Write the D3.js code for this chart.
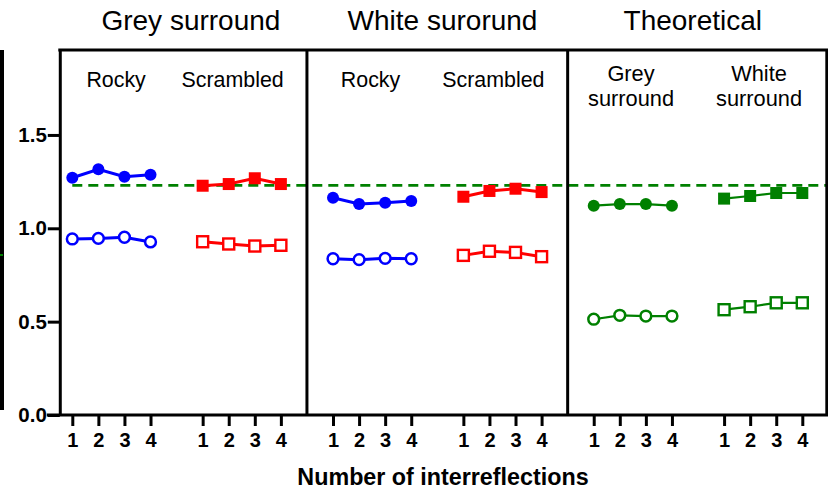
<!DOCTYPE html>
<html><head><meta charset="utf-8">
<script src="https://cdn.jsdelivr.net/npm/d3@7"></script>
<style>
body{margin:0;background:#fff;}
svg{display:block;font-family:"Liberation Sans",Arial,sans-serif;}
</style></head>
<body>
<svg id="chart" width="828" height="491"></svg>
<script>
// ---- data ----
const panelTitles = ["Grey surround", "White surorund", "Theoretical"];
const groupLabels = [["Rocky"], ["Scrambled"], ["Rocky"], ["Scrambled"], ["Grey", "surround"], ["White", "surround"]];
const interreflections = ["1", "2", "3", "4"];
const yTicks = [0, 0.5, 1.0, 1.5];
const referenceLevel = 1.23;

const greyRockyFilled      = [1.271, 1.316, 1.276, 1.287];
const greyRockyOpen        = [0.943, 0.946, 0.952, 0.927];
const greyScrambledFilled  = [1.228, 1.237, 1.268, 1.237];
const greyScrambledOpen    = [0.928, 0.916, 0.905, 0.909];
const whiteRockyFilled     = [1.164, 1.130, 1.137, 1.146];
const whiteRockyOpen       = [0.837, 0.832, 0.839, 0.837];
const whiteScrambledFilled = [1.169, 1.200, 1.212, 1.194];
const whiteScrambledOpen   = [0.855, 0.877, 0.871, 0.848];
const theoGreyFilled       = [1.121, 1.130, 1.130, 1.121];
const theoGreyOpen         = [0.513, 0.534, 0.530, 0.530];
const theoWhiteFilled      = [1.159, 1.173, 1.189, 1.189];
const theoWhiteOpen        = [0.564, 0.580, 0.601, 0.601];

const BLUE = "#0000ff", RED = "#ff0000", GREEN = "#008000";

// group index -> first slot position (4 points per group, gap of 1 slot between groups)
const groupStart = [0, 5, 10, 15, 20, 25];
// label centre offsets (in slot units) relative to group centre
const labelShift = [0.18, -0.35, -0.06, -0.35, -0.07, -0.16];
const titleSlot = [4.55, 14.2, 23.8];

const series = [
  {g:0, v:greyRockyFilled, c:BLUE, shape:"circle", fill:true, lw:3},
  {g:0, v:greyRockyOpen, c:BLUE, shape:"circle", fill:false, lw:3},
  {g:1, v:greyScrambledFilled, c:RED, shape:"square", fill:true, lw:3},
  {g:1, v:greyScrambledOpen, c:RED, shape:"square", fill:false, lw:3},
  {g:2, v:whiteRockyFilled, c:BLUE, shape:"circle", fill:true, lw:3},
  {g:2, v:whiteRockyOpen, c:BLUE, shape:"circle", fill:false, lw:3},
  {g:3, v:whiteScrambledFilled, c:RED, shape:"square", fill:true, lw:3},
  {g:3, v:whiteScrambledOpen, c:RED, shape:"square", fill:false, lw:3},
  {g:4, v:theoGreyFilled, c:GREEN, shape:"circle", fill:true, lw:2.2},
  {g:4, v:theoGreyOpen, c:GREEN, shape:"circle", fill:false, lw:2.2},
  {g:5, v:theoWhiteFilled, c:GREEN, shape:"square", fill:true, lw:2.2},
  {g:5, v:theoWhiteOpen, c:GREEN, shape:"square", fill:false, lw:2.2}
];

// ---- scales ----
const x = d3.scaleLinear().domain([0, 28]).range([72.3, 802.3]);
const y = d3.scaleLinear().domain([0, 1.955]).range([415, 50]);

const svg = d3.select("#chart");

// cropped neighbouring figure edge at far left
svg.append("rect").attr("x", 0).attr("y", 50).attr("width", 4).attr("height", 360).attr("fill", "#000");
svg.append("rect").attr("x", 0).attr("y", 254).attr("width", 3).attr("height", 2).attr("fill", GREEN);

const xLeft = x(-0.48), xRight = x(28.94);

// reference dashed line
svg.append("line")
  .attr("x1", x(0)).attr("x2", xRight)
  .attr("y1", y(referenceLevel)).attr("y2", y(referenceLevel))
  .attr("stroke", GREEN).attr("stroke-width", 2.6).attr("stroke-dasharray", "10,6");

// frame: top and panel dividers
svg.append("line").attr("x1", xLeft - 1.5).attr("x2", xRight + 1.5)
  .attr("y1", y.range()[1]).attr("y2", y.range()[1])
  .attr("stroke", "#000").attr("stroke-width", 3);
[9, 19, 28.94].forEach(p => {
  svg.append("line").attr("x1", x(p)).attr("x2", x(p))
    .attr("y1", y.range()[1]).attr("y2", y(0))
    .attr("stroke", "#000").attr("stroke-width", 3);
});

// y axis
const yAxis = svg.append("g").attr("transform", `translate(${xLeft},0)`)
  .call(d3.axisLeft(y).tickValues(yTicks).tickFormat(d3.format(".1f")).tickSize(12).tickSizeOuter(0).tickPadding(1));
yAxis.select(".domain").attr("stroke-width", 3).attr("stroke", "#000");
yAxis.selectAll(".tick line").attr("stroke-width", 3).attr("stroke", "#000");
yAxis.selectAll(".tick text").attr("font-size", 20.5).attr("font-weight", "bold")
  .attr("font-family", "'Liberation Sans',Arial,sans-serif").attr("fill", "#000");

// x axis
const xTickPos = [], xTickLab = [];
groupStart.forEach(s => interreflections.forEach((l, i) => { xTickPos.push(s + i); xTickLab.push(l); }));
const xAxis = svg.append("g").attr("transform", `translate(0,${y(0)})`)
  .call(d3.axisBottom(x).tickValues(xTickPos).tickFormat((d, i) => xTickLab[i]).tickSize(11).tickSizeOuter(0).tickPadding(7));
xAxis.select(".domain").attr("d", `M${xLeft - 13},0H${xRight + 1.5}`).attr("stroke-width", 3).attr("stroke", "#000");
xAxis.selectAll(".tick line").attr("stroke-width", 3).attr("stroke", "#000");
xAxis.selectAll(".tick text").attr("font-size", 20).attr("font-weight", "bold")
  .attr("font-family", "'Liberation Sans',Arial,sans-serif").attr("fill", "#000");

// x axis title
svg.append("text").attr("x", 443).attr("y", 485).attr("text-anchor", "middle")
  .attr("font-size", 23.3).attr("font-weight", "bold").text("Number of interreflections");

// panel titles
panelTitles.forEach((t, i) => {
  svg.append("text").attr("x", x(titleSlot[i])).attr("y", 30).attr("text-anchor", "middle")
    .attr("font-size", 28).text(t);
});

// group labels
groupLabels.forEach((lines, gi) => {
  const cx = x(groupStart[gi] + 1.5 + labelShift[gi]);
  const t = svg.append("text").attr("text-anchor", "middle").attr("font-size", lines.length === 1 ? 21.4 : 21.8);
  if (lines.length === 1) {
    t.append("tspan").attr("x", cx).attr("y", 87).text(lines[0]);
  } else {
    lines.forEach((l, k) => t.append("tspan").attr("x", cx).attr("y", 81 + k * 25).text(l));
  }
});

// series
const line = d3.line().x(d => x(d.p)).y(d => y(d.v));
series.forEach(s => {
  const pts = s.v.map((v, i) => ({p: groupStart[s.g] + i, v}));
  const g = svg.append("g");
  g.append("path").attr("d", line(pts)).attr("fill", "none").attr("stroke", s.c).attr("stroke-width", s.lw);
  if (s.shape === "circle") {
    g.selectAll("circle").data(pts).join("circle")
      .attr("cx", d => x(d.p)).attr("cy", d => y(d.v))
      .attr("r", s.fill ? 6 : 5.4)
      .attr("fill", s.fill ? s.c : "#fff")
      .attr("stroke", s.fill ? "none" : s.c).attr("stroke-width", 2.5);
  } else {
    const side = s.fill ? 12 : 11;
    g.selectAll("rect").data(pts).join("rect")
      .attr("x", d => x(d.p) - side / 2).attr("y", d => y(d.v) - side / 2)
      .attr("width", side).attr("height", side)
      .attr("fill", s.fill ? s.c : "#fff")
      .attr("stroke", s.fill ? "none" : s.c).attr("stroke-width", 2.4);
  }
});
</script>
</body></html>
